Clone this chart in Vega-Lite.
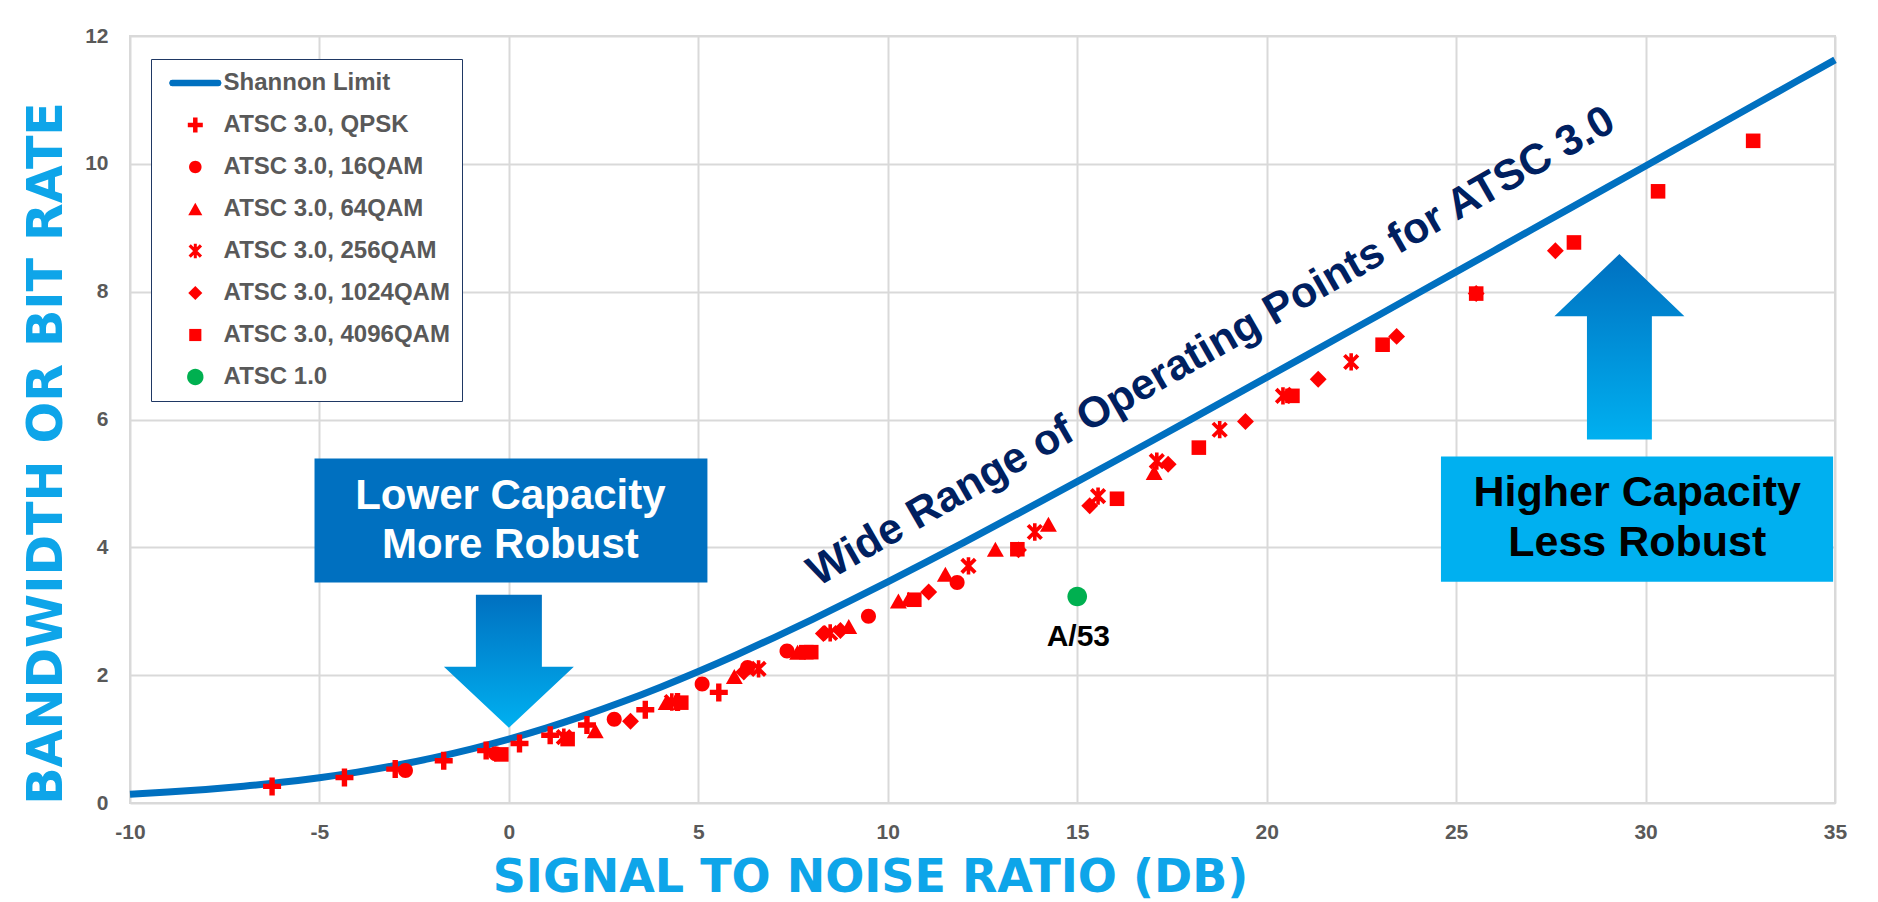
{
  "$schema": "https://vega.github.io/schema/vega-lite/v6.json",
  "width": 1705,
  "height": 767,
  "autosize": {"type": "none"},
  "padding": {"left": 130, "top": 36, "right": 43, "bottom": 99},
  "background": "white",
  "config": {
    "view": {"stroke": "#D9D9D9", "strokeWidth": 2},
    "axis": {
      "gridColor": "#D9D9D9", "gridWidth": 2, "domain": false, "ticks": false, "tickSize": 0, "labelFlush": false,
      "labelFont": "Liberation Sans", "labelFontWeight": "bold", "labelFontSize": 21, "labelColor": "#595959",
      "titleFont": "DejaVu Sans", "titleFontWeight": "bold", "titleColor": "#0EA5E9"
    },
    "legend": {
      "orient": "none", "legendX": 21, "legendY": 23, "direction": "vertical",
      "padding": 12, "fillColor": "white", "strokeColor": "#1F3864",
      "labelFont": "Liberation Sans", "labelFontWeight": "bold", "labelFontSize": 24, "labelColor": "#595959",
      "rowPadding": 18, "symbolOffset": 20.3, "labelOffset": 16.3, "labelLimit": 500,
      "symbolSize": 225, "symbolStrokeWidth": 0
    }
  },
  "datasets": {
    "shannon": [
      {"series": "Shannon Limit", "snr": -10, "rate": 0.1375},
      {"series": "Shannon Limit", "snr": -9, "rate": 0.1711},
      {"series": "Shannon Limit", "snr": -8, "rate": 0.2122},
      {"series": "Shannon Limit", "snr": -7, "rate": 0.2623},
      {"series": "Shannon Limit", "snr": -6, "rate": 0.3233},
      {"series": "Shannon Limit", "snr": -5, "rate": 0.3964},
      {"series": "Shannon Limit", "snr": -4, "rate": 0.4835},
      {"series": "Shannon Limit", "snr": -3, "rate": 0.5861},
      {"series": "Shannon Limit", "snr": -2, "rate": 0.7057},
      {"series": "Shannon Limit", "snr": -1, "rate": 0.8434},
      {"series": "Shannon Limit", "snr": 0, "rate": 1.0},
      {"series": "Shannon Limit", "snr": 1, "rate": 1.1756},
      {"series": "Shannon Limit", "snr": 2, "rate": 1.3701},
      {"series": "Shannon Limit", "snr": 3, "rate": 1.5827},
      {"series": "Shannon Limit", "snr": 4, "rate": 1.8122},
      {"series": "Shannon Limit", "snr": 5, "rate": 2.0574},
      {"series": "Shannon Limit", "snr": 6, "rate": 2.3165},
      {"series": "Shannon Limit", "snr": 7, "rate": 2.5878},
      {"series": "Shannon Limit", "snr": 8, "rate": 2.8698},
      {"series": "Shannon Limit", "snr": 9, "rate": 3.1608},
      {"series": "Shannon Limit", "snr": 10, "rate": 3.4594},
      {"series": "Shannon Limit", "snr": 11, "rate": 3.7644},
      {"series": "Shannon Limit", "snr": 12, "rate": 4.0746},
      {"series": "Shannon Limit", "snr": 13, "rate": 4.3891},
      {"series": "Shannon Limit", "snr": 14, "rate": 4.707},
      {"series": "Shannon Limit", "snr": 15, "rate": 5.0278},
      {"series": "Shannon Limit", "snr": 16, "rate": 5.3509},
      {"series": "Shannon Limit", "snr": 17, "rate": 5.6758},
      {"series": "Shannon Limit", "snr": 18, "rate": 6.0022},
      {"series": "Shannon Limit", "snr": 19, "rate": 6.3298},
      {"series": "Shannon Limit", "snr": 20, "rate": 6.6582},
      {"series": "Shannon Limit", "snr": 21, "rate": 6.9875},
      {"series": "Shannon Limit", "snr": 22, "rate": 7.3174},
      {"series": "Shannon Limit", "snr": 23, "rate": 7.6477},
      {"series": "Shannon Limit", "snr": 24, "rate": 7.9784},
      {"series": "Shannon Limit", "snr": 25, "rate": 8.3094},
      {"series": "Shannon Limit", "snr": 26, "rate": 8.6407},
      {"series": "Shannon Limit", "snr": 27, "rate": 8.9721},
      {"series": "Shannon Limit", "snr": 28, "rate": 9.3037},
      {"series": "Shannon Limit", "snr": 29, "rate": 9.6354},
      {"series": "Shannon Limit", "snr": 30, "rate": 9.9672},
      {"series": "Shannon Limit", "snr": 31, "rate": 10.2991},
      {"series": "Shannon Limit", "snr": 32, "rate": 10.6311},
      {"series": "Shannon Limit", "snr": 33, "rate": 10.9631},
      {"series": "Shannon Limit", "snr": 34, "rate": 11.2951},
      {"series": "Shannon Limit", "snr": 35, "rate": 11.6271}
    ],
    "points": [
      {"series": "ATSC 3.0, QPSK", "snr": -6.25, "rate": 0.26},
      {"series": "ATSC 3.0, QPSK", "snr": -4.34, "rate": 0.4},
      {"series": "ATSC 3.0, QPSK", "snr": -3.0, "rate": 0.53},
      {"series": "ATSC 3.0, QPSK", "snr": -1.72, "rate": 0.66},
      {"series": "ATSC 3.0, QPSK", "snr": -0.6, "rate": 0.82},
      {"series": "ATSC 3.0, QPSK", "snr": 0.28, "rate": 0.93},
      {"series": "ATSC 3.0, QPSK", "snr": 1.09, "rate": 1.06},
      {"series": "ATSC 3.0, QPSK", "snr": 2.06, "rate": 1.22},
      {"series": "ATSC 3.0, QPSK", "snr": 3.6, "rate": 1.46},
      {"series": "ATSC 3.0, QPSK", "snr": 4.45, "rate": 1.58},
      {"series": "ATSC 3.0, QPSK", "snr": 5.54, "rate": 1.73},
      {"series": "ATSC 3.0, 16QAM", "snr": -2.73, "rate": 0.51},
      {"series": "ATSC 3.0, 16QAM", "snr": -0.35, "rate": 0.77},
      {"series": "ATSC 3.0, 16QAM", "snr": 2.78, "rate": 1.31},
      {"series": "ATSC 3.0, 16QAM", "snr": 5.1, "rate": 1.86},
      {"series": "ATSC 3.0, 16QAM", "snr": 6.3, "rate": 2.12},
      {"series": "ATSC 3.0, 16QAM", "snr": 7.34, "rate": 2.38},
      {"series": "ATSC 3.0, 16QAM", "snr": 9.49, "rate": 2.92},
      {"series": "ATSC 3.0, 16QAM", "snr": 11.83, "rate": 3.45},
      {"series": "ATSC 3.0, 64QAM", "snr": 2.28, "rate": 1.13},
      {"series": "ATSC 3.0, 64QAM", "snr": 4.15, "rate": 1.57},
      {"series": "ATSC 3.0, 64QAM", "snr": 5.95, "rate": 1.98},
      {"series": "ATSC 3.0, 64QAM", "snr": 7.62, "rate": 2.36},
      {"series": "ATSC 3.0, 64QAM", "snr": 8.97, "rate": 2.76},
      {"series": "ATSC 3.0, 64QAM", "snr": 10.28, "rate": 3.16},
      {"series": "ATSC 3.0, 64QAM", "snr": 10.55, "rate": 3.19},
      {"series": "ATSC 3.0, 64QAM", "snr": 11.52, "rate": 3.58},
      {"series": "ATSC 3.0, 64QAM", "snr": 12.84, "rate": 3.97},
      {"series": "ATSC 3.0, 64QAM", "snr": 14.24, "rate": 4.36},
      {"series": "ATSC 3.0, 64QAM", "snr": 17.03, "rate": 5.17},
      {"series": "ATSC 3.0, 256QAM", "snr": 1.45, "rate": 1.03},
      {"series": "ATSC 3.0, 256QAM", "snr": 4.3, "rate": 1.58},
      {"series": "ATSC 3.0, 256QAM", "snr": 6.59, "rate": 2.1},
      {"series": "ATSC 3.0, 256QAM", "snr": 8.48, "rate": 2.66},
      {"series": "ATSC 3.0, 256QAM", "snr": 12.13, "rate": 3.71},
      {"series": "ATSC 3.0, 256QAM", "snr": 13.88, "rate": 4.24},
      {"series": "ATSC 3.0, 256QAM", "snr": 15.55, "rate": 4.8},
      {"series": "ATSC 3.0, 256QAM", "snr": 17.1, "rate": 5.35},
      {"series": "ATSC 3.0, 256QAM", "snr": 18.76, "rate": 5.84},
      {"series": "ATSC 3.0, 256QAM", "snr": 20.43, "rate": 6.37},
      {"series": "ATSC 3.0, 256QAM", "snr": 22.23, "rate": 6.9},
      {"series": "ATSC 3.0, 1024QAM", "snr": 3.21, "rate": 1.28},
      {"series": "ATSC 3.0, 1024QAM", "snr": 6.2, "rate": 2.05},
      {"series": "ATSC 3.0, 1024QAM", "snr": 8.3, "rate": 2.65},
      {"series": "ATSC 3.0, 1024QAM", "snr": 8.75, "rate": 2.7},
      {"series": "ATSC 3.0, 1024QAM", "snr": 11.08, "rate": 3.3},
      {"series": "ATSC 3.0, 1024QAM", "snr": 13.45, "rate": 3.96},
      {"series": "ATSC 3.0, 1024QAM", "snr": 15.33, "rate": 4.65},
      {"series": "ATSC 3.0, 1024QAM", "snr": 17.4, "rate": 5.3},
      {"series": "ATSC 3.0, 1024QAM", "snr": 19.44, "rate": 5.97},
      {"series": "ATSC 3.0, 1024QAM", "snr": 20.6, "rate": 6.38},
      {"series": "ATSC 3.0, 1024QAM", "snr": 21.36, "rate": 6.63},
      {"series": "ATSC 3.0, 1024QAM", "snr": 23.43, "rate": 7.3},
      {"series": "ATSC 3.0, 1024QAM", "snr": 25.53, "rate": 7.97},
      {"series": "ATSC 3.0, 1024QAM", "snr": 27.62, "rate": 8.64},
      {"series": "ATSC 3.0, 4096QAM", "snr": -0.2, "rate": 0.76},
      {"series": "ATSC 3.0, 4096QAM", "snr": 1.55, "rate": 1.0},
      {"series": "ATSC 3.0, 4096QAM", "snr": 4.55, "rate": 1.57},
      {"series": "ATSC 3.0, 4096QAM", "snr": 7.85, "rate": 2.36},
      {"series": "ATSC 3.0, 4096QAM", "snr": 7.98, "rate": 2.36},
      {"series": "ATSC 3.0, 4096QAM", "snr": 10.7, "rate": 3.18},
      {"series": "ATSC 3.0, 4096QAM", "snr": 13.42, "rate": 3.97},
      {"series": "ATSC 3.0, 4096QAM", "snr": 16.05, "rate": 4.76},
      {"series": "ATSC 3.0, 4096QAM", "snr": 18.21, "rate": 5.56},
      {"series": "ATSC 3.0, 4096QAM", "snr": 20.68, "rate": 6.37},
      {"series": "ATSC 3.0, 4096QAM", "snr": 23.06, "rate": 7.17},
      {"series": "ATSC 3.0, 4096QAM", "snr": 25.53, "rate": 7.97},
      {"series": "ATSC 3.0, 4096QAM", "snr": 28.11, "rate": 8.77},
      {"series": "ATSC 3.0, 4096QAM", "snr": 30.33, "rate": 9.57},
      {"series": "ATSC 3.0, 4096QAM", "snr": 32.84, "rate": 10.36},
      {"series": "ATSC 1.0", "snr": 15.0, "rate": 3.23}
    ]
  },
  "layer": [
    {
      "data": {"values": [{}]},
      "mark": {"type": "rect", "color": "#0070C0"},
      "encoding": {
        "x": {"datum": -5.13, "type": "quantitative"},
        "x2": {"datum": 5.24},
        "y": {"datum": 3.45, "type": "quantitative"},
        "y2": {"datum": 5.39}
      }
    },
    {
      "data": {"values": [{}]},
      "mark": {"type": "rect", "color": "#00B0F0"},
      "encoding": {
        "x": {"datum": 24.6, "type": "quantitative"},
        "x2": {"datum": 34.95},
        "y": {"datum": 3.46, "type": "quantitative"},
        "y2": {"datum": 5.42}
      }
    },
    {
      "data": {"values": [{}]},
      "mark": {
        "type": "point", "filled": true, "opacity": 1, "strokeWidth": 0, "size": 17689,
        "shape": "M-0.496,-1L0.496,-1L0.496,0.083L0.977,0.083L0,1L-0.977,0.083L-0.496,0.083Z",
        "fill": {"gradient": "linear", "x1": 0, "y1": 0, "x2": 0, "y2": 1, "stops": [{"offset": 0, "color": "#0070C0"}, {"offset": 1, "color": "#00B0F0"}]}
      },
      "encoding": {
        "x": {"datum": 0.0, "type": "quantitative"},
        "y": {"datum": 2.219, "type": "quantitative"}
      }
    },
    {
      "data": {"values": [{}]},
      "mark": {
        "type": "point", "filled": true, "opacity": 1, "strokeWidth": 0, "size": 34410,
        "shape": "M0,-1L0.701,-0.329L0.35,-0.329L0.35,1L-0.35,1L-0.35,-0.329L-0.701,-0.329Z",
        "fill": {"gradient": "linear", "x1": 0, "y1": 0, "x2": 0, "y2": 1, "stops": [{"offset": 0, "color": "#0070C0"}, {"offset": 1, "color": "#00B0F0"}]}
      },
      "encoding": {
        "x": {"datum": 29.31, "type": "quantitative"},
        "y": {"datum": 7.137, "type": "quantitative"}
      }
    },
    {
      "data": {"name": "shannon"},
      "mark": {"type": "line", "strokeWidth": 7, "interpolate": "monotone"},
      "encoding": {
        "x": {
          "field": "snr", "type": "quantitative",
          "scale": {"domain": [-10, 35], "nice": false, "zero": false},
          "axis": {
            "values": [-10, -5, 0, 5, 10, 15, 20, 25, 30, 35], "grid": true, "labelPadding": 18,
            "labelExpr": "datum.value + ''",
            "title": "SIGNAL TO NOISE RATIO (DB)", "titleFontSize": 46,
            "titleX": 740, "titleY": 74, "titleBaseline": "middle", "titleAlign": "center"
          }
        },
        "y": {
          "field": "rate", "type": "quantitative",
          "scale": {"domain": [0, 12], "nice": false, "zero": false},
          "axis": {
            "values": [0, 2, 4, 6, 8, 10, 12], "grid": true, "labelPadding": 22,
            "labelExpr": "datum.value + ''",
            "title": "BANDWIDTH OR BIT RATE", "titleFontSize": 49, "titleAngle": -90,
            "titleX": -84, "titleY": 417, "titleBaseline": "middle", "titleAlign": "center"
          }
        },
        "color": {
          "field": "series", "type": "nominal", "title": null,
          "scale": {
            "domain": ["Shannon Limit", "ATSC 3.0, QPSK", "ATSC 3.0, 16QAM", "ATSC 3.0, 64QAM", "ATSC 3.0, 256QAM", "ATSC 3.0, 1024QAM", "ATSC 3.0, 4096QAM", "ATSC 1.0"],
            "range": ["#0070C0", "#FF0000", "#FF0000", "#FF0000", "#FF0000", "#FF0000", "#FF0000", "#00B050"]
          }
        }
      }
    },
    {
      "data": {"name": "points"},
      "mark": {"type": "point", "filled": true, "opacity": 1, "strokeWidth": 0, "size": 324},
      "encoding": {
        "x": {"field": "snr", "type": "quantitative"},
        "y": {"field": "rate", "type": "quantitative"},
        "color": {
          "field": "series", "type": "nominal", "title": null,
          "scale": {
            "domain": ["Shannon Limit", "ATSC 3.0, QPSK", "ATSC 3.0, 16QAM", "ATSC 3.0, 64QAM", "ATSC 3.0, 256QAM", "ATSC 3.0, 1024QAM", "ATSC 3.0, 4096QAM", "ATSC 1.0"],
            "range": ["#0070C0", "#FF0000", "#FF0000", "#FF0000", "#FF0000", "#FF0000", "#FF0000", "#00B050"]
          },
          "legend": {
            "title": null,
            "encode": {
              "legend": {"strokeWidth": {"value": 2}},
              "symbols": {"size": {"value": 225}, "strokeWidth": {"value": 0}, "opacity": {"value": 1}}
            }
          }
        },
        "shape": {
          "field": "series", "type": "nominal", "title": null,
          "scale": {
            "domain": ["Shannon Limit", "ATSC 3.0, QPSK", "ATSC 3.0, 16QAM", "ATSC 3.0, 64QAM", "ATSC 3.0, 256QAM", "ATSC 3.0, 1024QAM", "ATSC 3.0, 4096QAM", "ATSC 1.0"],
            "range": [
              "M-3.07,-0.43L3.07,-0.43L3.35,-0.37L3.5,0L3.35,0.37L3.07,0.43L-3.07,0.43L-3.35,0.37L-3.5,0L-3.35,-0.37Z",
              "M-1,-0.3H-0.3V-1H0.3V-0.3H1V0.3H0.3V1H-0.3V0.3H-1Z",
              "M0.833,0A0.833,0.833,0,1,1,-0.833,0A0.833,0.833,0,1,1,0.833,0Z",
              "M0,-0.83L0.94,0.83L-0.94,0.83Z",
              "M-0.6,-0.9L0.9,0.6L0.6,0.9L-0.9,-0.6ZM-0.6,0.9L-0.9,0.6L0.6,-0.9L0.9,-0.6ZM-0.2,-0.96L0.2,-0.96L0.2,0.96L-0.2,0.96Z",
              "M0,-0.94L0.94,0L0,0.94L-0.94,0Z",
              "M-0.81,-0.81L0.81,-0.81L0.81,0.81L-0.81,0.81Z",
              "M1.09,0A1.09,1.09,0,1,1,-1.09,0A1.09,1.09,0,1,1,1.09,0Z"
            ]
          },
          "legend": {
            "title": null,
            "encode": {
              "legend": {"strokeWidth": {"value": 2}},
              "symbols": {"size": {"value": 225}, "strokeWidth": {"value": 0}, "opacity": {"value": 1}}
            }
          }
        }
      }
    },
    {
      "data": {"values": [{}]},
      "mark": {"type": "text", "text": ["Lower Capacity", "More Robust"], "font": "Liberation Sans", "fontWeight": "bold", "fontSize": 42, "lineHeight": 49, "color": "white", "align": "center", "baseline": "middle"},
      "encoding": {
        "x": {"datum": 0.04, "type": "quantitative"},
        "y": {"datum": 4.8, "type": "quantitative"}
      }
    },
    {
      "data": {"values": [{}]},
      "mark": {"type": "text", "text": ["Higher Capacity", "Less Robust"], "font": "Liberation Sans", "fontWeight": "bold", "fontSize": 43, "lineHeight": 50, "color": "black", "align": "center", "baseline": "middle"},
      "encoding": {
        "x": {"datum": 29.78, "type": "quantitative"},
        "y": {"datum": 4.856, "type": "quantitative"}
      }
    },
    {
      "data": {"values": [{}]},
      "mark": {"type": "text", "text": "Wide Range of Operating Points for ATSC 3.0", "font": "Liberation Sans", "fontWeight": "bold", "fontSize": 43, "color": "#002060", "align": "center", "baseline": "middle", "angle": -29.8},
      "encoding": {
        "x": {"datum": 18.54, "type": "quantitative"},
        "y": {"datum": 7.14, "type": "quantitative"}
      }
    },
    {
      "data": {"values": [{}]},
      "mark": {"type": "text", "text": "A/53", "font": "Liberation Sans", "fontWeight": "bold", "fontSize": 30, "color": "black", "align": "center", "baseline": "middle"},
      "encoding": {
        "x": {"datum": 15.03, "type": "quantitative"},
        "y": {"datum": 2.59, "type": "quantitative"}
      }
    }
  ]
}
